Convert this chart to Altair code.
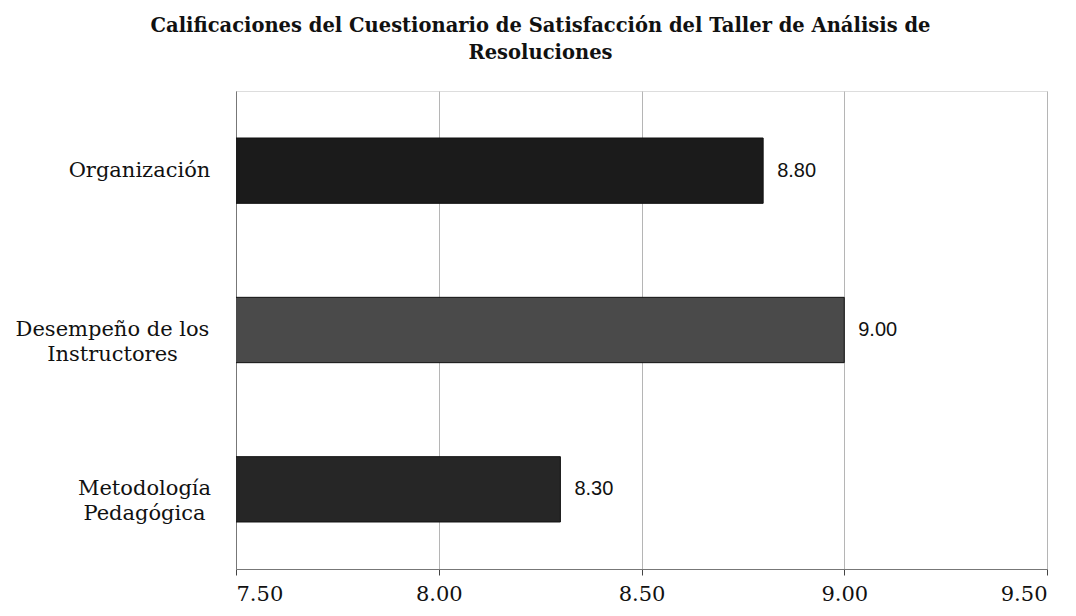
import altair as alt
import pandas as pd

categories = ["Organización", "Desempeño de los\nInstructores", "Metodología\nPedagógica"]
values = [8.80, 9.00, 8.30]
x_ticks = [7.5, 8.0, 8.5, 9.0, 9.5]

df = pd.DataFrame({"cat": categories, "val": values})

bar_colors = ["#1b1b1b", "#4a4a4a", "#262626"]

label_pad = {
    "condition": {
        "test": "true",
        "expr": "indexof(datum.value, 'Organiz') == 0 ? 97 : (indexof(datum.value, 'Desemp') == 0 ? 124 : 92)",
    },
    "value": 97,
}

y_enc = alt.Y("cat:N", sort=categories, title=None,
              scale=alt.Scale(paddingInner=0.59, paddingOuter=0.295),
              axis=alt.Axis(labelExpr="split(datum.label, '\\n')",
                            labelFont="DejaVu Serif", labelFontSize=21,
                            labelColor="#111", labelPadding=label_pad,
                            labelAlign="center", labelLineHeight=25,
                            labelLimit=300,
                            ticks=False, domainColor="#777", domainWidth=1,
                            grid=False))
x_enc = alt.X("val:Q", title=None,
              scale=alt.Scale(domain=[7.5, 9.5], nice=False, zero=False),
              axis=alt.Axis(values=x_ticks, format=".2f",
                            labelFont="DejaVu Serif", labelFontSize=21,
                            labelColor="#111", labelPadding=8,
                            tickSize=6, tickColor="#444",
                            domainColor="#777", gridColor="#b5b5b5",
                            gridWidth=1))

bars = alt.Chart(df).mark_bar(stroke="#111", strokeWidth=1, clip=True).encode(
    x=x_enc,
    y=y_enc,
    color=alt.Color("cat:N", legend=None,
                    scale=alt.Scale(domain=categories, range=bar_colors)),
)

labels = alt.Chart(df).mark_text(align="left", baseline="middle", dx=14,
                                 font="Liberation Sans", fontSize=20,
                                 color="#111").encode(
    x=alt.X("val:Q"),
    y=alt.Y("cat:N", sort=categories),
    text=alt.Text("val:Q", format=".2f"),
)

chart = (bars + labels).properties(
    width=811,
    height=478,
    autosize=alt.AutoSizeParams(type="none"),
    padding={"left": 228, "top": 83, "right": 20, "bottom": 38},
    title=alt.TitleParams(
        text=["Calificaciones del Cuestionario de Satisfacción del Taller de Análisis de",
              "Resoluciones"],
        font="DejaVu Serif", fontSize=19.5, fontWeight="bold", color="#111",
        anchor="middle", dx=-101, offset=28, lineHeight=27,
    ),
).configure_view(stroke=None).configure(background="white")

chart.save("out.html", embed_options={"renderer": "svg", "actions": False})
